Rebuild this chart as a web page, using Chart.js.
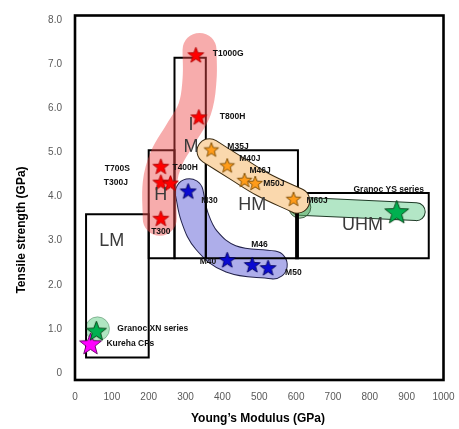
<!DOCTYPE html>
<html><head><meta charset="utf-8">
<script src="https://cdn.jsdelivr.net/npm/chart.js@4.4.1/dist/chart.umd.min.js"></script>
<style>html,body{margin:0;padding:0;background:#fff;}canvas{display:block;}</style>
</head><body>
<canvas id="c" width="459" height="429"></canvas>
<script>
// ---- axes ----
const xTicks = [0,100,200,300,400,500,600,700,800,900,1000];
const xTickLabels = ['0','100','200','300','400','500','600','700','800','900','1000'];
const yTicks = [0,1,2,3,4,5,6,7,8];
const yTickLabels = ['0','1.0','2.0','3.0','4.0','5.0','6.0','7.0','8.0'];
const xTitle = 'Young\u2019s Modulus (GPa)';
const yTitle = 'Tensile strength (GPa)';
const xRange = [0, 1000];
const yRange = [-0.16, 8.11];

// ---- fibre series ----
const redNames = ['T1000G','T800H','T700S','T300J','T400H','T300'];
const redX = [328, 336, 233, 233, 259, 233];
const redY = [7.22, 5.81, 4.69, 4.33, 4.31, 3.51];
const blueNames = ['M30','M40','M46','M50'];
const blueX = [307, 413, 481, 524];
const blueY = [4.13, 2.57, 2.46, 2.39];
const orangeNames = ['M35J','M40J','M46J','M50J','M60J'];
const orangeX = [370, 413, 460, 489, 593];
const orangeY = [5.07, 4.71, 4.38, 4.31, 3.95];
const granocNames = ['Granoc YS series','Granoc XN series'];
const granocX = [873, 58];
const granocY = [3.66, 0.96];
const kurehaNames = ['Kureha CFs'];
const kurehaX = [42];
const kurehaY = [0.67];

// ---- classification boxes ----
const boxNames = ['LM','H','IM','HM','UHM'];
const boxXMin = [30, 200, 270, 355, 600];
const boxXMax = [200, 270, 355, 605, 960];
const boxYMin = [0.35, 2.6, 2.6, 2.6, 2.6];
const boxYMax = [3.6, 5.05, 7.15, 5.05, 4.08];
const zoneLabels = ['LM','H','I','M','HM','UHM'];
const zoneLabelX = [100, 233, 315, 315, 481, 780];
const zoneLabelY = [3.0, 4.04, 5.63, 5.12, 3.82, 3.35];

// ---- shaded family bands (centre lines) ----
const redBandX = [230, 230, 248, 287, 325, 338, 338];
const redBandY = [3.50, 4.31, 4.87, 5.43, 5.99, 6.66, 7.33];
const blueBandX = [310, 325, 357, 423, 538];
const blueBandY = [4.09, 3.53, 3.01, 2.59, 2.45];
const orangeBandX = [365, 437, 511, 603];
const orangeBandY = [5.03, 4.65, 4.27, 3.91];
const ysBandX = [608, 926];
const ysBandY = [3.78, 3.66];
const ysBubbleX = [610], ysBubbleY = [3.76];
const xnBubbleX = [61], xnBubbleY = [1.0];

// ---- label styling (pixel offsets from each star) ----
const labelStyle = {
  'T1000G':[17,-1,'left'], 'T800H':[21,0,'left'], 'T700S':[-31,2,'right'],
  'T300J':[-33,1,'right'], 'T400H':[2,-15,'left'], 'T300':[0,13,'center'],
  'M30':[13,10,'left'], 'M40':[-11,2,'right'], 'M46':[-1,-20,'left'], 'M50':[17,5,'left'],
  'M35J':[16,-3,'left'], 'M40J':[12,-7,'left'], 'M46J':[5,-9,'left'], 'M50J':[8,1,'left'], 'M60J':[13,2,'left'],
  'Granoc YS series':[-8,-22,'center'], 'Granoc XN series':[21,-2,'left'], 'Kureha CFs':[16,0,'left']
};

const zip = (xs, ys) => xs.map((v,i)=>({x:v, y:ys[i]}));

function starImg(r, fill, stroke){
  const pad = 2, s = Math.ceil(2*r + 2*pad);
  const c = document.createElement('canvas'); c.width = s; c.height = s;
  const g = c.getContext('2d');
  g.beginPath();
  for (let i=0;i<10;i++){
    const rad = i%2===0 ? r : r*0.42;
    const a = -Math.PI/2 + i*Math.PI/5;
    const px = s/2 + rad*Math.cos(a), py = s/2 + rad*Math.sin(a) + r*0.095;
    if (i===0) g.moveTo(px,py); else g.lineTo(px,py);
  }
  g.closePath();
  g.fillStyle = fill; g.fill();
  g.lineWidth = 0.9; g.strokeStyle = stroke; g.stroke();
  return c;
}

function band(xs, ys, color, width, order, tension){
  return {data: zip(xs, ys), showLine:true, borderColor:color, borderWidth:width,
    borderCapStyle:'round', borderJoinStyle:'round', tension: tension, pointRadius:0,
    order: order, clip:false};
}
function stars(xs, ys, img, order){
  return {data: zip(xs, ys), showLine:false, pointStyle: img, pointRadius: img.width/2, order: order, clip:false};
}

const datasets = [];
// stars (top)
datasets.push(stars(redX, redY, starImg(8.3,'#ff0000','#b00000'), 0));
datasets.push(stars(blueX, blueY, starImg(8.3,'#0a0ad2','#000060'), 0));
datasets.push(stars(orangeX, orangeY, starImg(7.6,'#ff9c1a','#7a4a00'), 0));
datasets.push(stars([granocX[0]], [granocY[0]], starImg(12.5,'#00b050','#003a10'), 0));
datasets.push(stars([granocX[1]], [granocY[1]], starImg(10.5,'#00b050','#003a10'), 0));
datasets.push(stars(kurehaX, kurehaY, starImg(11.5,'#ff00ff','#600060'), 0));
// orange band (opaque, outlined)
datasets.push(band(orangeBandX, orangeBandY, '#fad8ad', 24, 1, 0.4));
datasets.push(band(orangeBandX, orangeBandY, '#3a2a10', 26, 2, 0.4));
// red band (translucent)
datasets.push(band(redBandX, redBandY, 'rgba(238,70,70,0.45)', 34, 3, 0.4));
// boxes
boxNames.forEach((n,i)=>{
  datasets.push({data:[{x:boxXMin[i],y:boxYMin[i]},{x:boxXMax[i],y:boxYMin[i]},{x:boxXMax[i],y:boxYMax[i]},{x:boxXMin[i],y:boxYMax[i]},{x:boxXMin[i],y:boxYMin[i]}],
    showLine:true, borderColor:'#000', borderWidth:2, borderJoinStyle:'miter', borderCapStyle:'square', tension:0, pointRadius:0, order:4});
});
// blue band (outlined)
datasets.push(band(blueBandX, blueBandY, '#aeaeea', 27, 5, 0.4));
datasets.push(band(blueBandX, blueBandY, '#22224a', 29, 6, 0.4));
// green blobs
datasets.push({data: zip(xnBubbleX, xnBubbleY), showLine:false, pointRadius:12, pointBackgroundColor:'rgba(80,200,120,0.45)', pointBorderColor:'rgba(40,100,60,0.5)', pointBorderWidth:0.8, order:7});
datasets.push({data: zip(ysBubbleX, ysBubbleY), showLine:false, pointRadius:11, pointBackgroundColor:'rgba(90,170,100,0.55)', pointBorderColor:'#2a4a30', pointBorderWidth:0.8, order:8});
datasets.push(band(ysBandX, ysBandY, '#b3e6c6', 17, 9, 0));
datasets.push(band(ysBandX, ysBandY, '#1e3a26', 19, 10, 0));

const groups = [
  {names: redNames, x: redX, y: redY},
  {names: blueNames, x: blueX, y: blueY},
  {names: orangeNames, x: orangeX, y: orangeY},
  {names: granocNames, x: granocX, y: granocY},
  {names: kurehaNames, x: kurehaX, y: kurehaY}
];

const overlay = {
  id: 'overlay',
  afterDatasetsDraw(chart){
    const {ctx, chartArea:a, scales:{x, y}} = chart;
    ctx.save();
    ctx.lineWidth = 2.6; ctx.strokeStyle = '#000';
    ctx.strokeRect(a.left, a.top, a.right - a.left, a.bottom - a.top);
    ctx.textAlign = 'center'; ctx.textBaseline = 'middle';
    ctx.fillStyle = '#3a3a3a';
    ctx.font = '18px "Liberation Sans", Arial, sans-serif';
    zoneLabels.forEach((t,i)=> ctx.fillText(t, x.getPixelForValue(zoneLabelX[i]), y.getPixelForValue(zoneLabelY[i])));
    ctx.fillStyle = '#111';
    ctx.font = 'bold 8.5px "Liberation Sans", Arial, sans-serif';
    groups.forEach(g => g.names.forEach((n,i)=>{
      const o = labelStyle[n];
      ctx.textAlign = o[2];
      ctx.fillText(n, x.getPixelForValue(g.x[i]) + o[0], y.getPixelForValue(g.y[i]) + o[1]);
    }));
    ctx.fillStyle = '#000';
    ctx.font = 'bold 12px "Liberation Sans", Arial, sans-serif';
    ctx.textAlign = 'center';
    ctx.fillText(xTitle, 258, 419);
    ctx.translate(22, 230); ctx.rotate(-Math.PI/2);
    ctx.fillText(yTitle, 0, 0);
    ctx.restore();
  }
};

new Chart(document.getElementById('c'), {
  type: 'scatter',
  data: {datasets},
  options: {
    responsive: false, animation: false, devicePixelRatio: 1,
    layout: {padding: {top: 10, right: 6, left: 0, bottom: 0}},
    plugins: {legend: {display: false}, tooltip: {enabled: false}, title: {display: false}},
    scales: {
      x: {type: 'linear', min: xRange[0], max: xRange[1],
        grid: {display: false, drawTicks: false}, border: {display: false},
        afterBuildTicks: s => { s.ticks = xTicks.map(v => ({value: v})); },
        afterFit: s => { s.height = 49; s.paddingLeft = 0; s.paddingRight = 0; },
        ticks: {autoSkip: false, maxRotation: 0, padding: 11, color: '#595959',
          font: {family: '"Liberation Sans", Arial, sans-serif', size: 10},
          callback: (v, i) => xTickLabels[i]}
      },
      y: {type: 'linear', min: yRange[0], max: yRange[1],
        grid: {display: false, drawTicks: false}, border: {display: false},
        afterBuildTicks: s => { s.ticks = yTicks.map(v => ({value: v})); },
        afterFit: s => { s.width = 75; s.paddingTop = 0; s.paddingBottom = 0; },
        ticks: {autoSkip: false, padding: 13, color: '#595959',
          font: {family: '"Liberation Sans", Arial, sans-serif', size: 10},
          callback: (v, i) => yTickLabels[i]}
      }
    }
  },
  plugins: [overlay]
});
</script>
</body></html>
